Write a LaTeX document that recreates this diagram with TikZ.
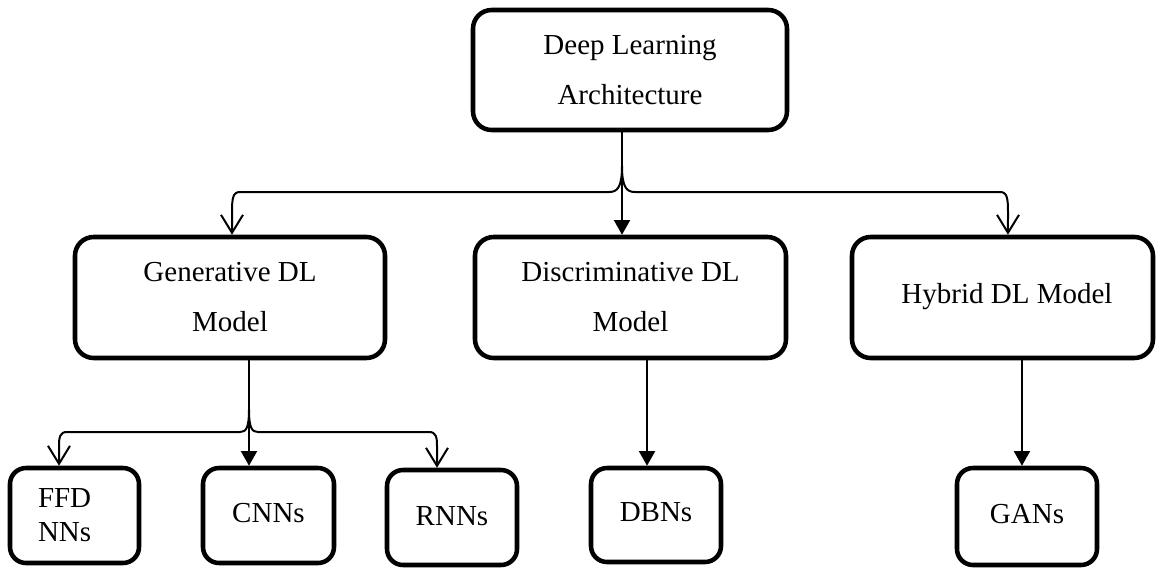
\documentclass[tikz,border=0pt]{standalone}
\usepackage{fontspec}
\setmainfont{Liberation Serif}
\usetikzlibrary{arrows.meta}
\begin{document}
\begin{tikzpicture}[x=0.75pt,y=-0.75pt,
  bigbox/.style={draw, line width=3.4pt, rounded corners=14pt, align=center, inner sep=0pt,
    font=\fontsize{21.75pt}{37.5pt}\selectfont},
  smallbox/.style={draw, line width=3.4pt, rounded corners=12pt, align=center, inner sep=0pt,
    font=\fontsize{21.75pt}{25.5pt}\selectfont},
  conn/.style={line width=1.5pt},
  opentip/.style={-{Straight Barb[length=13.5pt,width=16.5pt,line width=1.5pt]}},
  filltip/.style={-{Triangle[length=11pt,width=12pt]}}
]
\useasboundingbox (0,0) rectangle (1157,568);

% main boxes
\node[bigbox, minimum width=235.5pt, minimum height=90pt] (top) at (630,70) {Deep Learning\\Architecture};
\node[bigbox, minimum width=232.5pt, minimum height=90.75pt] (gen) at (230,297.5) {Generative DL\\Model};
\node[bigbox, minimum width=233.25pt, minimum height=90.75pt] (disc) at (630.5,297.5) {Discriminative DL\\Model};
\node[bigbox, minimum width=225.75pt, minimum height=90.75pt] (hyb) at (1002.5,297.5) {\hspace*{6.75pt}\raisebox{5.6pt}{Hybrid DL Model}};

% leaf boxes
\node[smallbox, minimum width=96.75pt, minimum height=71.25pt, text width=54.75pt, align=left] (ffd) at (74.5,515.5) {FFD\\NNs};
\node[smallbox, minimum width=98.25pt, minimum height=71.25pt] (cnn) at (268.5,515.5) {\raisebox{4pt}{CNNs}};
\node[smallbox, minimum width=97.5pt, minimum height=71.25pt] (rnn) at (452,517.5) {\raisebox{3pt}{RNNs}};
\node[smallbox, minimum width=97.5pt, minimum height=70.5pt] (dbn) at (656,515) {\raisebox{4pt}{DBNs}};
\node[smallbox, minimum width=105pt, minimum height=72.75pt] (gan) at (1027,516.5) {\raisebox{4pt}{GANs}};

% junction points
\coordinate (j1) at (622,166);
\coordinate (j2) at (249,410);

% from top
\draw[conn, filltip] (top.south -| j1) -- (disc.north -| j1);
\draw[conn, opentip] (j1) .. controls (622,188) and (617,192) .. (609,192) -- (240,192)
   .. controls (233,192) and (232,198) .. (232,212) -- ([xshift=1.5pt]gen.north);
\draw[conn, opentip] (j1) .. controls (622,188) and (627,192) .. (635,192) -- (1000,192)
   .. controls (1007,192) and (1008,198) .. (1008,212) -- ([xshift=4.1pt]hyb.north);

% from generative
\draw[conn, filltip] (gen.south -| j2) -- (cnn.north -| j2);
\draw[conn, opentip] (j2) .. controls (249,428) and (246,432) .. (240,432) -- (67,432)
   .. controls (60,432) and (59,437) .. (59,446) -- ([xshift=-11.6pt]ffd.north);
\draw[conn, opentip] (j2) .. controls (249,428) and (252,432) .. (258,432) -- (429,432)
   .. controls (436,432) and (437,437) .. (437,446) -- ([xshift=-11.25pt]rnn.north);

% single children
\draw[conn, filltip] ([xshift=12.4pt]disc.south) -- ([xshift=12.4pt]disc.south |- dbn.north);
\draw[conn, filltip] ([xshift=14.6pt]hyb.south) -- ([xshift=14.6pt]hyb.south |- gan.north);
\end{tikzpicture}
\end{document}
